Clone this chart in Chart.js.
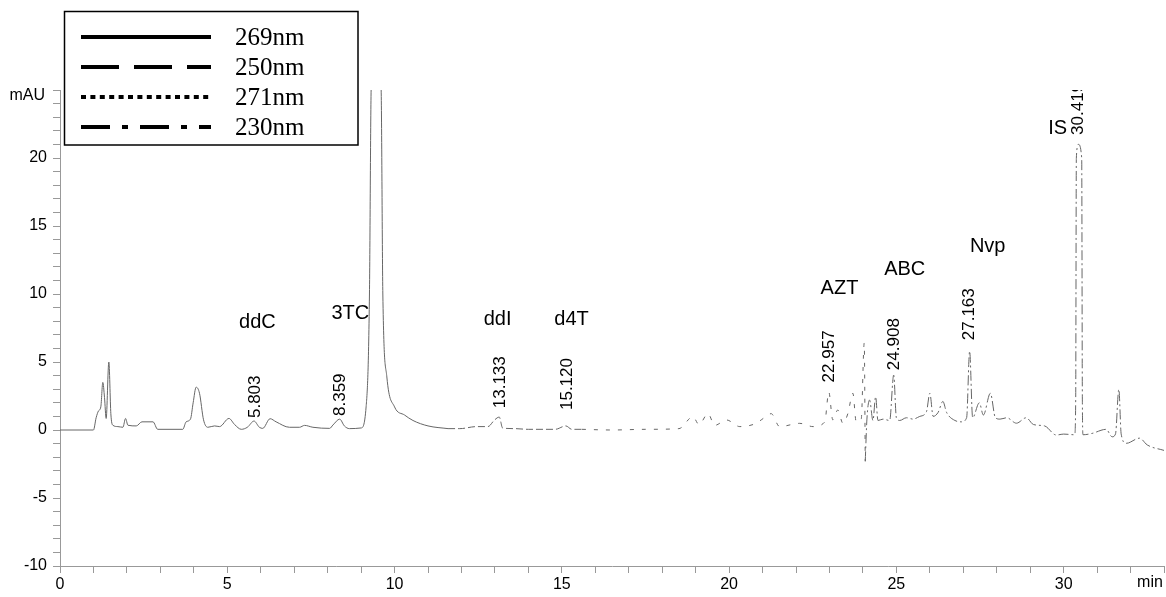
<!DOCTYPE html>
<html>
<head>
<meta charset="utf-8">
<script src="https://cdn.jsdelivr.net/npm/chart.js@4"></script>
<style>
  html, body { margin: 0; padding: 0; background: #fff; }
  #wrap { width: 1166px; height: 597px; }
</style>
</head>
<body>
<div id="wrap"><canvas id="myChart" width="1166" height="597"></canvas></div>
<script>
// wavelengths (legend order)
const seriesLabels = ["269nm", "250nm", "271nm", "230nm"];

// 269nm window: ddC, 3TC
const time269 = [0, 1.0, 1.08, 1.15, 1.22, 1.28, 1.33, 1.38, 1.46, 1.52, 1.58, 1.73, 1.88, 1.96, 2.03, 2.28, 2.45, 2.78, 2.92, 3.67, 3.77, 3.9, 3.98, 4.07, 4.17, 4.29, 4.42, 4.62, 4.77, 5.05, 5.22, 5.42, 5.6, 5.8, 5.96, 6.06, 6.28, 6.46, 6.86, 7.16, 7.31, 7.56, 8.06, 8.16, 8.36, 8.5, 8.65, 9.0, 9.15, 9.25, 9.3, 9.45, 9.6, 9.65, 9.77, 10.0, 10.3, 10.55, 11.0, 11.6];
const mau269 = [0, 0, 0.9, 1.4, 1.7, 3.5, 2.4, 0.85, 5.0, 1.2, 0.35, 0.25, 0.2, 0.85, 0.35, 0.3, 0.6, 0.6, 0.05, 0.05, 0.6, 0.8, 2.0, 3.15, 2.7, 0.75, 0.2, 0.3, 0.25, 0.85, 0.4, 0.05, 0.2, 0.66, 0.2, 0.12, 0.83, 0.6, 0.2, 0.2, 0.34, 0.2, 0.12, 0.37, 0.8, 0.3, 0.1, 0.15, 1.7, 10, 25, 31, 25, 10, 3.9, 1.7, 1.1, 0.7, 0.3, 0.1];

// 250nm window: ddI, d4T
const time250 = [11.6, 11.95, 12.45, 12.79, 12.99, 13.13, 13.23, 13.6, 14.0, 14.5, 14.8, 15.12, 15.3, 15.6];
const mau250 = [0.1, 0.1, 0.25, 0.25, 0.74, 0.95, 0.15, 0.1, 0.05, 0.05, 0.05, 0.3, 0.05, 0.05];

// 271nm window: AZT
const time271 = [15.6, 16.5, 17.5, 18.5, 18.92, 19.1, 19.37, 19.57, 19.92, 20.32, 20.81, 20.96, 21.26, 21.51, 22.11, 22.51, 22.86, 22.98, 23.1, 23.25, 23.4, 23.55, 23.7, 23.8, 23.95, 24.04, 24.07];
const mau271 = [0.05, 0.0, 0.05, 0.1, 0.98, 0.4, 1.2, 0.34, 0.74, 0.25, 0.49, 0.74, 1.2, 0.25, 0.49, 0.25, 0.6, 2.8, 0.74, 1.47, 0.5, 1.2, 2.7, 0.6, 0.8, 6.4, -2.3];

// 230nm window: ABC, Nvp, IS
const time230 = [24.07, 24.12, 24.2, 24.3, 24.38, 24.45, 24.6, 24.8, 24.92, 25.0, 25.1, 25.3, 25.5, 25.7, 25.9, 26.0, 26.1, 26.25, 26.39, 26.5, 26.75, 26.95, 27.1, 27.19, 27.28, 27.48, 27.6, 27.81, 27.96, 28.1, 28.3, 28.59, 28.88, 29.1, 29.43, 29.78, 30.0, 30.33, 30.36, 30.38, 30.44, 30.54, 30.56, 30.58, 30.85, 31.27, 31.45, 31.55, 31.65, 31.72, 31.87, 32.27, 32.5, 33.0];
const mau230 = [-2.3, 0.8, 2.2, 0.7, 2.45, 0.7, 0.8, 0.7, 4.04, 0.9, 0.7, 0.9, 0.8, 1.0, 1.35, 2.7, 1.0, 1.3, 2.1, 1.3, 0.7, 0.6, 0.9, 5.8, 0.9, 2.0, 1.1, 2.7, 0.9, 0.8, 0.9, 0.5, 0.9, 0.4, 0.3, -0.37, -0.3, -0.35, 2, 20, 21, 20, 2, -0.35, -0.25, 0.05, -0.5, -0.3, 3.0, -0.3, -0.98, -0.6, -1.1, -1.5];

// peak names
const peakNames = ["ddC", "3TC", "ddI", "d4T", "AZT", "ABC", "Nvp", "IS"];
const peakNameTime = [5.9, 8.68, 13.08, 15.29, 23.3, 25.25, 27.73, 29.82];
const peakNameMau = [7.9, 8.6, 8.1, 8.1, 10.4, 11.8, 13.5, 22.2];

// retention times printed above peaks
const rtLabels = ["5.803", "8.359", "13.133", "15.120", "22.957", "24.908", "27.163", "30.419"];
const rtMau = [0.88, 1.03, 1.6, 1.47, 3.5, 4.4, 6.6, 21.7];

const xTickMax = 33;
const yTickMin = -10;
const yTickMax = 25;

const sans = '"Liberation Sans", Arial, Helvetica, sans-serif';
const serif = '"Liberation Serif", "Times New Roman", serif';

// thin trace dashes vs thick legend samples
const lineDash = [[], [7, 3], [4, 8], [10, 3, 2, 3]];
const legendDash = [[], [38, 15], [5, 4.4], [29, 12, 6, 12]];

function toPoints(xs, ys) {
  return xs.map((x, i) => ({ x: x, y: ys[i] }));
}

const allTimes = [time269, time250, time271, time230];
const allMau = [mau269, mau250, mau271, mau230];

const overlay = {
  id: "overlay",
  afterDraw(chart) {
    const { ctx, chartArea } = chart;
    const xs = chart.scales.x;
    const ys = chart.scales.y;
    ctx.save();
    ctx.fillStyle = "#000";

    // peak names
    ctx.font = "20px " + sans;
    ctx.textAlign = "center";
    ctx.textBaseline = "middle";
    peakNames.forEach((n, i) => {
      ctx.fillText(n, xs.getPixelForValue(peakNameTime[i]), ys.getPixelForValue(peakNameMau[i]));
    });

    // retention times, rotated, clipped to plot area
    ctx.save();
    ctx.beginPath();
    ctx.rect(chartArea.left, chartArea.top, chartArea.right - chartArea.left, chartArea.bottom - chartArea.top);
    ctx.clip();
    ctx.font = "17px " + sans;
    ctx.textAlign = "left";
    ctx.textBaseline = "middle";
    rtLabels.forEach((t, i) => {
      ctx.save();
      ctx.translate(xs.getPixelForValue(parseFloat(t)) + 1, ys.getPixelForValue(rtMau[i]));
      ctx.rotate(-Math.PI / 2);
      ctx.fillText(t, 0, 0);
      ctx.restore();
    });
    ctx.restore();

    // axis units
    ctx.font = "16px " + sans;
    ctx.textAlign = "right";
    ctx.fillText("mAU", chartArea.left - 15, chartArea.top + 6);
    ctx.textAlign = "center";
    ctx.fillText("min", chartArea.right - 14, chartArea.bottom + 17);

    // legend box
    ctx.fillStyle = "#fff";
    ctx.fillRect(64.5, 11.5, 293.5, 133.5);
    ctx.strokeStyle = "#000";
    ctx.lineWidth = 1.5;
    ctx.strokeRect(64.5, 11.5, 293.5, 133.5);
    ctx.font = "25px " + serif;
    ctx.textAlign = "left";
    ctx.fillStyle = "#000";
    seriesLabels.forEach((lab, i) => {
      const yy = 37 + 30 * i;
      ctx.beginPath();
      ctx.setLineDash(legendDash[i]);
      ctx.lineWidth = 4;
      ctx.lineCap = "butt";
      ctx.moveTo(81, yy);
      ctx.lineTo(211, yy);
      ctx.stroke();
      ctx.setLineDash([]);
      ctx.fillText(lab, 235, yy + 1);
    });
    ctx.restore();
  },
};

const cfg = {
  type: "line",
  data: {
    datasets: seriesLabels.map((lab, i) => ({
      label: lab,
      data: toPoints(allTimes[i], allMau[i]),
      borderColor: "#666",
      borderWidth: 1,
      borderDash: lineDash[i],
      pointRadius: 0,
      fill: false,
      cubicInterpolationMode: "monotone",
    })),
  },
  options: {
    responsive: false,
    animation: false,
    layout: { padding: { top: 90, right: 2, left: 0, bottom: 0 } },
    plugins: {
      legend: { display: false },
      tooltip: { enabled: false },
    },
    scales: {
      x: {
        type: "linear",
        min: 0,
        max: xTickMax,
        ticks: {
          stepSize: 1,
          autoSkip: false,
          maxRotation: 0,
          color: "#000",
          padding: 2,
          font: { size: 16, family: sans },
          callback: (v) => (v % 5 === 0 ? String(v) : ""),
        },
        grid: { drawOnChartArea: false, drawTicks: true, tickLength: 7, color: "#999" },
        border: { display: true, color: "#999" },
        afterFit(s) { s.height = 31; },
      },
      y: {
        min: yTickMin,
        max: yTickMax,
        ticks: {
          stepSize: 1,
          autoSkip: false,
          color: "#000",
          padding: 6,
          font: { size: 16, family: sans },
          callback: (v) => (v % 5 === 0 && v < yTickMax ? String(v) : ""),
        },
        grid: { drawOnChartArea: false, drawTicks: true, tickLength: 7, color: "#999" },
        border: { display: true, color: "#999" },
        afterFit(s) { s.width = 60; },
      },
    },
  },
  plugins: [overlay],
};

const ctx = document.getElementById("myChart");

new Chart(ctx, cfg);
</script>
</body>
</html>
